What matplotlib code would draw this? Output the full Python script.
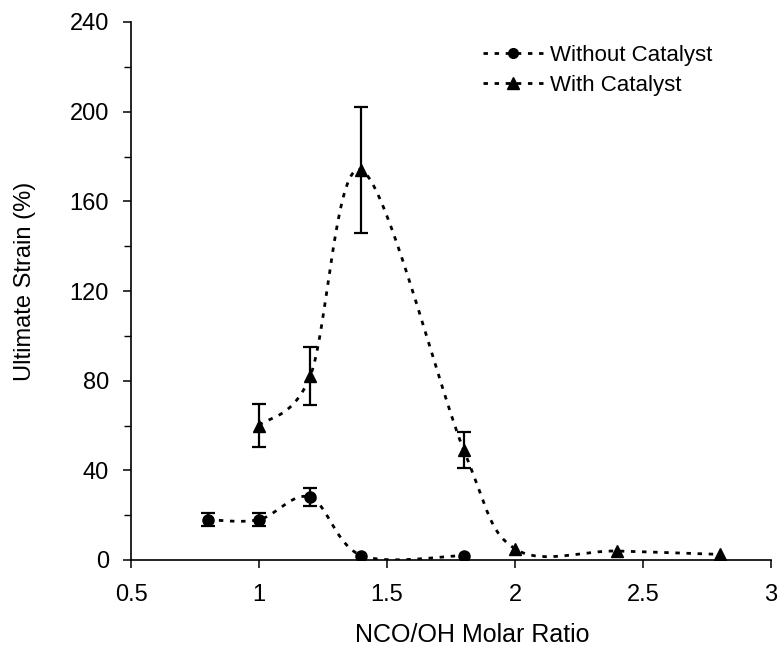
import numpy as np
import matplotlib
matplotlib.use("Agg")
import matplotlib.pyplot as plt
from matplotlib.lines import Line2D

plt.rcParams['font.family'] = ['Liberation Sans', 'DejaVu Sans']

# Data
x_without = [0.8, 1.0, 1.2, 1.4, 1.8]
y_without = [18, 18, 28, 2, 2]
err_without = [3, 3, 4, 0, 0]

x_with = [1.0, 1.2, 1.4, 1.8, 2.0, 2.4, 2.8]
y_with = [60, 82, 174, 49, 5, 4, 2.5]
err_with = [9.5, 13, 28, 8, 0, 0, 0]

labels = ["Without Catalyst", "With Catalyst"]


def smooth(xs, ys, n=40):
    """Catmull-Rom style cubic Bezier smoothing (like Excel smoothed lines)."""
    p = np.column_stack([xs, ys]).astype(float)
    out = []
    m = len(p)
    for i in range(m - 1):
        p0 = p[i - 1] if i > 0 else p[i]
        p1 = p[i]
        p2 = p[i + 1]
        p3 = p[i + 2] if i + 2 < m else p[i + 1]
        c1 = p1 + (p2 - p0) / 6.0
        c2 = p2 - (p3 - p1) / 6.0
        t = np.linspace(0, 1, n)[:, None]
        seg = ((1 - t) ** 3) * p1 + 3 * ((1 - t) ** 2) * t * c1 + 3 * (1 - t) * t ** 2 * c2 + t ** 3 * p2
        out.append(seg if i == 0 else seg[1:])
    s = np.vstack(out)
    return s[:, 0], s[:, 1]


fig = plt.figure(figsize=(7.81, 6.56), dpi=100)
ax = fig.add_axes([131 / 781, 1 - 560 / 656, 640 / 781, 538 / 656])

ls = (0, (1.6, 2.4))
lw = 2.0
for xs, ys, es, mk, ms in [(x_without, y_without, err_without, 'o', 8),
                           (x_with, y_with, err_with, '^', 9)]:
    sx, sy = smooth(xs, ys)
    ax.plot(sx, sy, color='black', linestyle=ls, linewidth=lw, zorder=2)
    xe = [x for x, e in zip(xs, es) if e > 0]
    ye = [y for y, e in zip(ys, es) if e > 0]
    ee = [e for e in es if e > 0]
    ax.errorbar(xe, ye, yerr=ee, fmt='none', ecolor='black', elinewidth=1.6,
                capsize=5, capthick=1.6, zorder=3)
    ax.plot(xs, ys, linestyle='none', marker=mk, markersize=ms, color='black', zorder=4)

ax.set_xlim(0.5, 3)
ax.set_ylim(0, 240)
ax.set_xticks(np.arange(0.5, 3.01, 0.5))
ax.set_xticklabels(['0.5', '1', '1.5', '2', '2.5', '3'])
ax.set_yticks(np.arange(0, 241, 40))
ax.set_yticks(np.arange(0, 241, 20), minor=True)
ax.spines['top'].set_visible(False)
ax.spines['right'].set_visible(False)
for s in ['left', 'bottom']:
    ax.spines[s].set_linewidth(1.2)
ax.tick_params(axis='both', which='major', labelsize=17, length=6, width=1.1, direction='out')
ax.tick_params(axis='y', which='major', pad=10)
ax.tick_params(axis='x', which='major', pad=11)
ax.tick_params(axis='y', which='minor', length=5, width=1.0, direction='out')
ax.tick_params(axis='x', which='minor', length=0)

ax.set_xlabel("NCO/OH Molar Ratio", fontsize=18)
ax.set_ylabel("Ultimate Strain (%)", fontsize=17)
ax.xaxis.set_label_coords(0.533, -0.139)
ax.xaxis.label.set_va('center')
ax.yaxis.set_label_coords(-0.166, 0.517)
ax.yaxis.label.set_va('center')

handles = [Line2D([0], [0], color='black', linestyle=ls, linewidth=lw, marker='o', markersize=7),
           Line2D([0], [0], color='black', linestyle=ls, linewidth=lw, marker='^', markersize=8)]
ax.legend(handles, labels, loc='upper left', bbox_to_anchor=(0.518, 0.995), frameon=False,
          fontsize=16, handlelength=2.7, handletextpad=0.35, labelspacing=0.4)

fig.savefig("out.png", dpi=100)
